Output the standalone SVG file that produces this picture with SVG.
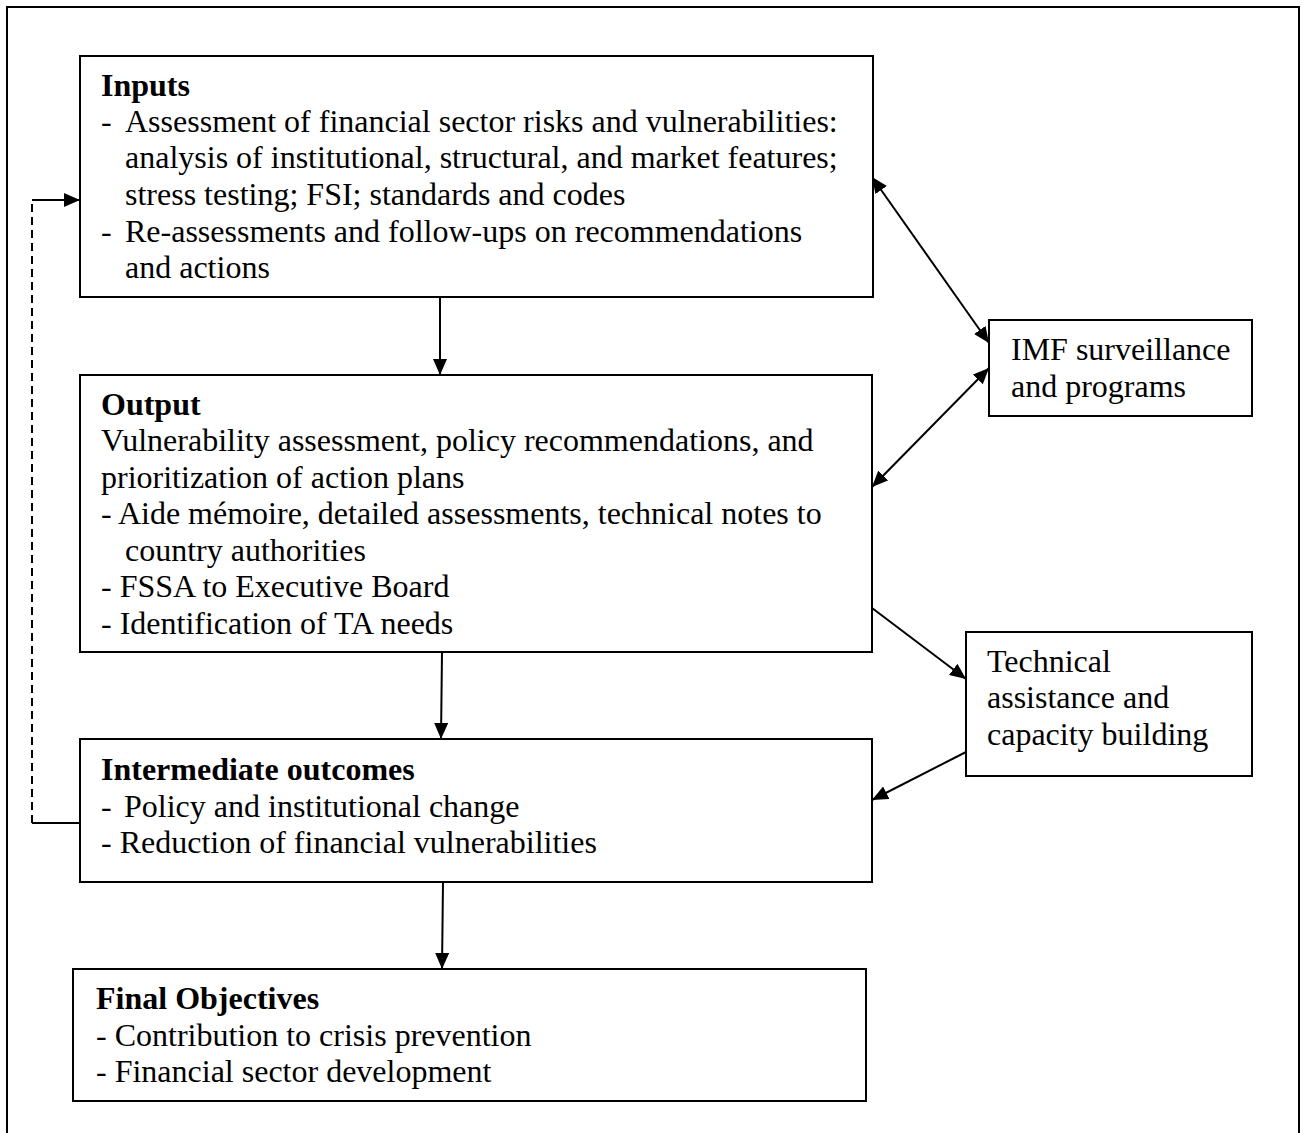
<svg xmlns="http://www.w3.org/2000/svg" width="1308" height="1133" viewBox="0 0 1308 1133">
<defs>
<marker id="ah" viewBox="0 0 16 14" refX="16" refY="7" markerWidth="16" markerHeight="14" markerUnits="userSpaceOnUse" orient="auto-start-reverse">
<path d="M0,0 L16,7 L0,14 Z" fill="#000"/>
</marker>
</defs>
<style>
.box{fill:#fff;stroke:#000;stroke-width:2}
.t{font-family:"Liberation Serif","Times New Roman",serif;font-size:32px;fill:#000}
.b{font-weight:bold}
.c{fill:none;stroke:#000;stroke-width:2}
.d{stroke-dasharray:8,5}
</style>
<rect x="0" y="0" width="1308" height="1133" fill="#fff"/>
<path class="c" d="M7,1140 V7 H1299 V1140"/>
<g id="connectors">
<line class="c" x1="440" y1="297" x2="440" y2="375" marker-end="url(#ah)"/>
<line class="c" x1="442" y1="652" x2="441" y2="739" marker-end="url(#ah)"/>
<line class="c" x1="443" y1="882" x2="442" y2="969" marker-end="url(#ah)"/>
<line class="c" x1="872" y1="177" x2="989" y2="343" marker-start="url(#ah)" marker-end="url(#ah)"/>
<line class="c" x1="989" y1="368" x2="872" y2="487" marker-start="url(#ah)" marker-end="url(#ah)"/>
<line class="c" x1="872" y1="608" x2="966" y2="679" marker-end="url(#ah)"/>
<line class="c" x1="966" y1="752" x2="872" y2="800" marker-end="url(#ah)"/>
<path class="c" d="M80,823 H32"/>
<path class="c d" d="M32,823 V200"/>
<path class="c" d="M32,200 H80" marker-end="url(#ah)"/>
</g>
<g id="inputs">
<rect class="box" x="80" y="56" width="793" height="241"/>
<text class="t b" x="101" y="96">Inputs</text>
<text class="t" x="101" y="132">-</text>
<text class="t" x="125" y="132">Assessment of financial sector risks and vulnerabilities:</text>
<text class="t" x="125" y="168">analysis of institutional, structural, and market features;</text>
<text class="t" x="125" y="205">stress testing; FSI; standards and codes</text>
<text class="t" x="101" y="242">-</text>
<text class="t" x="125" y="242">Re-assessments and follow-ups on recommendations</text>
<text class="t" x="125" y="278">and actions</text>
</g>
<g id="output">
<rect class="box" x="80" y="375" width="792" height="277"/>
<text class="t b" x="101" y="415">Output</text>
<text class="t" x="101" y="451">Vulnerability assessment, policy recommendations, and</text>
<text class="t" x="101" y="488">prioritization of action plans</text>
<text class="t" x="101" y="524">- Aide mémoire, detailed assessments, technical notes to</text>
<text class="t" x="125" y="561">country authorities</text>
<text class="t" x="101" y="597">- FSSA to Executive Board</text>
<text class="t" x="101" y="634">- Identification of TA needs</text>
</g>
<g id="intermediate">
<rect class="box" x="80" y="739" width="792" height="143"/>
<text class="t b" x="101" y="780">Intermediate outcomes</text>
<text class="t" x="101" y="817">-</text>
<text class="t" x="124" y="817">Policy and institutional change</text>
<text class="t" x="101" y="853">- Reduction of financial vulnerabilities</text>
</g>
<g id="final">
<rect class="box" x="73" y="969" width="793" height="132"/>
<text class="t b" x="96" y="1009">Final Objectives</text>
<text class="t" x="96" y="1046">- Contribution to crisis prevention</text>
<text class="t" x="96" y="1082">- Financial sector development</text>
</g>
<g id="imf">
<rect class="box" x="989" y="320" width="263" height="96"/>
<text class="t" x="1011" y="360">IMF surveillance</text>
<text class="t" x="1011" y="397">and programs</text>
</g>
<g id="ta">
<rect class="box" x="966" y="632" width="286" height="144"/>
<text class="t" x="987" y="672">Technical</text>
<text class="t" x="987" y="708">assistance and</text>
<text class="t" x="987" y="745">capacity building</text>
</g>
</svg>
